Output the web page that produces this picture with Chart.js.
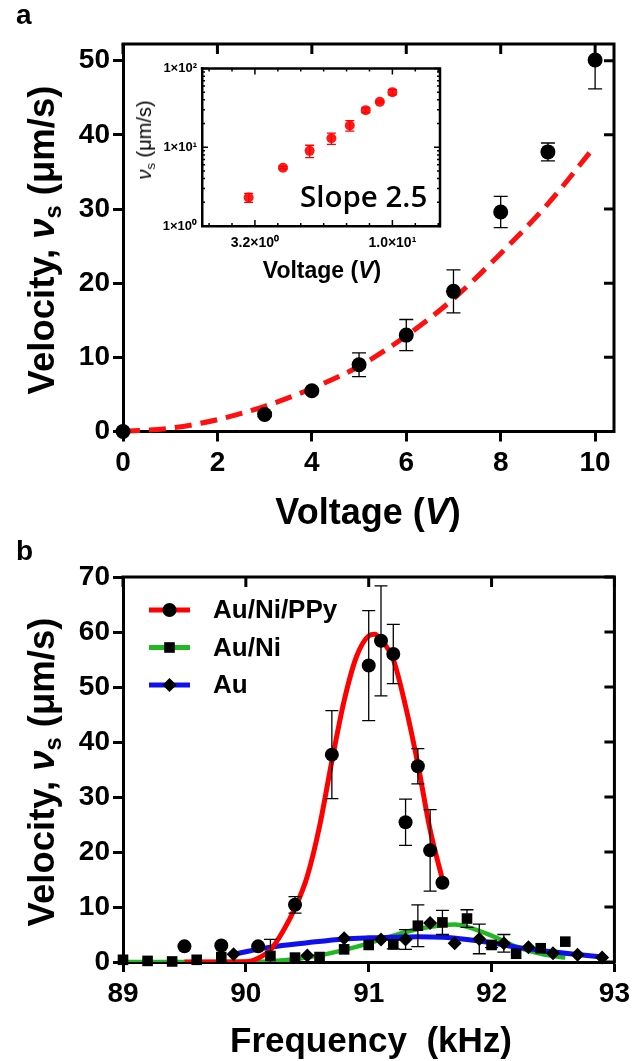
<!DOCTYPE html>
<html>
<head>
<meta charset="utf-8">
<title>Velocity vs voltage and frequency</title>
<script src="https://cdn.jsdelivr.net/npm/chart.js@4.4.1/dist/chart.umd.min.js"></script>
<style>
  html, body { margin: 0; padding: 0; background: #fff; }
  body { position: relative; width: 635px; height: 1061px; overflow: hidden;
         font-family: "Liberation Sans", Arial, sans-serif; color: #000; }
  canvas { position: absolute; display: block; }
  .t { position: absolute; white-space: nowrap; line-height: 1; font-weight: bold; }
  .rot { transform: translate(-50%, -50%) rotate(-90deg); }
  .hc { transform: translateX(-50%); }
  sub { font-size: 0.65em; vertical-align: -0.3em; line-height: 0; }
</style>
</head>
<body>
<canvas id="chartA" width="635" height="531" style="left:0;top:0"></canvas>
<canvas id="chartB" width="635" height="531" style="left:0;top:530px"></canvas>
<canvas id="inset" width="310" height="240" style="left:140px;top:50px"></canvas>

<div class="t" style="left:16px;top:1px;font-size:28px">a</div>
<div class="t" style="left:16px;top:537px;font-size:28px">b</div>
<div class="t rot" style="left:42px;top:240px;font-size:36.5px">Velocity, <i>ν</i><sub>s</sub> (μm/s)</div>
<div class="t hc" style="left:368px;top:494px;font-size:36px">Voltage (<i>V</i>)</div>
<div class="t rot" style="left:42px;top:772px;font-size:36.5px">Velocity, <i>ν</i><sub>s</sub> (μm/s)</div>
<div class="t hc" style="left:371px;top:1022px;font-size:35px">Frequency&nbsp;&nbsp;(kHz)</div>
<div class="t rot" style="left:144px;top:140px;font-size:20px;font-weight:normal"><i>ν</i><sub>s</sub> (μm/s)</div>
<div class="t hc" style="left:322px;top:259px;font-size:23px">Voltage (<i>V</i>)</div>
<div class="t" style="left:300px;top:181px;font-family:'Open Sans';font-weight:600;font-size:29.5px">Slope 2.5</div>

<script>
// ---- panel a : velocity vs voltage ----
const voltage     = [0, 3, 4, 5, 6, 7, 8, 9, 10];
const velocity    = [0, 2.3, 5.5, 9.0, 13.0, 18.9, 29.6, 37.7, 50.1];
const velocityErr = [0, 0.3, 0.2, 1.6, 2.1, 2.9, 2.1, 1.2, 3.9];
const fitVoltage  = [0, 1, 2, 3, 4, 5, 6, 7, 8, 9, 10];
const fitVelocity = [0, 0.45, 1.6, 3.4, 5.8, 8.8, 12.9, 17.9, 24.0, 30.7, 38.5];
const xTicksA = [0, 2, 4, 6, 8, 10];
const yTicksA = [0, 10, 20, 30, 40, 50];

// inset (log-log)
const insetXTicks  = [3.1623, 10];
const insetXLabels = ['3.2×10⁰', '1.0×10¹'];
const insetYTicks  = [1, 10, 100];
const insetYLabels = ['1×10⁰', '1×10¹', '1×10²'];

// ---- panel b : velocity vs frequency ----
const seriesNames = ['Au/Ni/PPy', 'Au/Ni', 'Au'];

const freqPPy = [89.5, 89.8, 90.1, 90.4, 90.7, 91.0, 91.1, 91.2, 91.3, 91.4, 91.5, 91.6];
const velPPy  = [2.85, 3.0, 2.85, 10.4, 37.7, 53.9, 58.4, 56.0, 25.4, 35.6, 20.3, 14.4];
const errPPy  = [0, 0, 0, 1.5, 8.0, 10.0, 10.0, 5.4, 4.2, 3.2, 7.4, 0];

const freqNi = [89.0, 89.2, 89.4, 89.6, 89.8, 90.2, 90.4, 90.6, 90.8, 91.0, 91.2, 91.4, 91.6, 91.8, 92.0, 92.2, 92.4, 92.6];
const velNi  = [0.4, 0.2, 0.1, 0.4, 0.9, 1.1, 0.8, 0.9, 2.3, 3.1, 3.2, 6.6, 7.2, 7.9, 3.1, 1.5, 2.5, 3.7];
const errNi  = [0, 0, 0, 0, 0, 3.0, 0, 0, 0, 0, 0.8, 3.8, 2.2, 1.6, 0.5, 0, 0, 0];

const freqAu = [89.9, 90.5, 90.8, 91.1, 91.3, 91.5, 91.7, 91.9, 92.1, 92.3, 92.5, 92.7, 92.9];
const velAu  = [1.4, 1.2, 4.3, 4.1, 4.1, 7.1, 3.4, 4.2, 3.4, 2.7, 1.6, 1.3, 0.8];
const errAu  = [0, 0, 0, 0, 1.8, 0, 0, 2.7, 1.6, 0, 0, 0, 0];

const fitFreqPPy = [89.5, 89.8, 90.0, 90.1, 90.2, 90.3, 90.4, 90.5, 90.6, 90.7, 90.8, 90.9, 91.0, 91.05, 91.1, 91.2, 91.3, 91.4, 91.5, 91.6];
const fitVelPPy  = [0, 0, 0.05, 0.7, 2.2, 5.5, 9.8, 15.6, 24.7, 36.5, 47.5, 55.5, 59.3, 59.6, 58.6, 55.0, 46.5, 36.0, 24.0, 15.0];
const fitFreqNi  = [89.0, 89.5, 90.0, 90.2, 90.4, 90.6, 90.8, 91.0, 91.2, 91.4, 91.6, 91.7, 91.8, 92.0, 92.2, 92.4, 92.6];
const fitVelNi   = [0, 0, 0.05, 0.15, 0.5, 1.2, 2.2, 3.4, 4.8, 6.0, 6.7, 6.8, 6.4, 4.8, 2.8, 1.5, 0.8];
const fitFreqAu  = [89.9, 90.2, 90.5, 90.8, 91.0, 91.2, 91.4, 91.6, 91.8, 92.0, 92.2, 92.4, 92.6, 92.9];
const fitVelAu   = [1.4, 2.7, 3.5, 4.2, 4.4, 4.5, 4.6, 4.5, 4.1, 3.5, 2.7, 2.1, 1.6, 0.9];

const xTicksB = [89, 90, 91, 92, 93];
const yTicksB = [0, 10, 20, 30, 40, 50, 60, 70];

const pts = (xs, ys) => xs.map((x, i) => ({ x: x, y: ys[i] }));

Chart.defaults.font.family = "'Liberation Sans', Arial, sans-serif";
Chart.defaults.color = '#000';

// error bars, drawn through the chart's own scales
const errorBars = {
  id: 'errorBars',
  afterDatasetsDraw(chart, args, o) {
    const { ctx, chartArea: a } = chart;
    ctx.save();
    ctx.beginPath();
    ctx.rect(a.left, a.top, a.right - a.left, a.bottom - a.top);
    ctx.clip();
    chart.data.datasets.forEach((ds, i) => {
      if (!ds.errors) return;
      const meta = chart.getDatasetMeta(i);
      const ys = chart.scales[meta.yAxisID];
      ctx.strokeStyle = ds.errorColor || '#000';
      ctx.lineWidth = o.width;
      ds.data.forEach((p, j) => {
        const e = ds.errors[j];
        if (!e) return;
        const px = meta.data[j].x;
        const top = ys.getPixelForValue(p.y + e), bot = ys.getPixelForValue(p.y - e);
        ctx.beginPath();
        ctx.moveTo(px, top); ctx.lineTo(px, bot);
        ctx.moveTo(px - o.cap, top); ctx.lineTo(px + o.cap, top);
        ctx.moveTo(px - o.cap, bot); ctx.lineTo(px + o.cap, bot);
        ctx.stroke();
      });
    });
    ctx.restore();
  }
};

// top/right frame with inward ticks
const frame = {
  id: 'frame',
  afterDraw(chart, args, o) {
    const { ctx, chartArea: a, scales: { x, y } } = chart;
    ctx.save();
    ctx.strokeStyle = '#000';
    ctx.lineWidth = o.width;
    ctx.beginPath();
    ctx.moveTo(a.left - o.width / 2, a.top);
    ctx.lineTo(a.right, a.top);
    ctx.lineTo(a.right, a.bottom + o.width / 2);
    ctx.stroke();
    ctx.beginPath();
    x.ticks.forEach(t => { const px = x.getPixelForValue(t.value); ctx.moveTo(px, a.top); ctx.lineTo(px, a.top + o.len); });
    y.ticks.forEach(t => { const py = y.getPixelForValue(t.value); ctx.moveTo(a.right, py); ctx.lineTo(a.right - o.len, py); });
    ctx.stroke();
    ctx.restore();
  }
};

function axes(xMin, xMax, xTicks, yMin, yMax, yTicks, xHeight) {
  const border = { display: true, color: '#000', width: 3 };
  const grid = { display: true, drawOnChartArea: false, drawTicks: true, tickLength: 10, tickWidth: 3, tickColor: '#000' };
  return {
    x: {
      type: 'linear', min: xMin, max: xMax, border: border, grid: grid,
      ticks: { color: '#000', font: { size: 28, weight: 'bold' }, padding: 5, maxRotation: 0, autoSkip: false },
      afterBuildTicks: s => { s.ticks = xTicks.map(v => ({ value: v })); },
      afterFit: s => { s.height = xHeight; }
    },
    y: {
      type: 'linear', min: yMin, max: yMax, border: border, grid: grid,
      ticks: { color: '#000', font: { size: 28, weight: 'bold' }, padding: 3, autoSkip: false },
      afterBuildTicks: s => { s.ticks = yTicks.map(v => ({ value: v })); },
      afterFit: s => { s.width = 123; }
    }
  };
}

// PANEL A
new Chart(document.getElementById('chartA'), {
  type: 'scatter',
  data: {
    datasets: [
      {
        data: pts(voltage, velocity), errors: velocityErr,
        backgroundColor: '#000', pointRadius: 7.5, borderWidth: 0, clip: false
      },
      {
        data: pts(fitVoltage, fitVelocity), showLine: true, pointRadius: 0,
        borderColor: '#ff1010', borderWidth: 5, borderDash: [17, 9],
        cubicInterpolationMode: 'monotone', clip: false
      }
    ]
  },
  options: {
    responsive: false, animation: false,
    layout: { padding: { top: 44, right: 21, left: 0, bottom: 0 } },
    plugins: {
      legend: { display: false }, tooltip: { enabled: false },
      errorBars: { width: 1.3, cap: 7 },
      frame: { width: 3, len: 10 }
    },
    scales: axes(0, 10.4, xTicksA, 0, 52.25, yTicksA, 99.5)
  },
  plugins: [errorBars, frame]
});

// INSET - log/log
const insetXMinor = [];
for (let k = -2; k <= 8; k++) insetXMinor.push(Math.pow(10, 0.5 + k / 12));
const insetYMinor = [];
[1, 10].forEach(d => { for (let m = 2; m <= 9; m++) insetYMinor.push(m * d); });

const insetFrame = {
  id: 'insetFrame',
  afterDraw(chart) {
    const { ctx, chartArea: a, scales: { x, y } } = chart;
    ctx.save();
    ctx.strokeStyle = '#000';
    ctx.lineWidth = 2.5;
    ctx.beginPath();
    ctx.moveTo(a.left - 1.25, a.top); ctx.lineTo(a.right, a.top); ctx.lineTo(a.right, a.bottom + 1.25);
    ctx.stroke();
    ctx.lineWidth = 1.5;
    ctx.beginPath();
    const xt = (v, len) => { const px = x.getPixelForValue(v);
      ctx.moveTo(px, a.bottom); ctx.lineTo(px, a.bottom - len);
      ctx.moveTo(px, a.top); ctx.lineTo(px, a.top + len); };
    const yt = (v, len) => { const py = y.getPixelForValue(v);
      ctx.moveTo(a.left, py); ctx.lineTo(a.left + len, py);
      ctx.moveTo(a.right, py); ctx.lineTo(a.right - len, py); };
    insetXMinor.forEach(v => xt(v, 3));
    insetXTicks.forEach(v => xt(v, 6));
    insetYMinor.forEach(v => yt(v, 3));
    insetYTicks.forEach(v => yt(v, 6));
    ctx.stroke();
    ctx.restore();
  }
};

new Chart(document.getElementById('inset'), {
  type: 'scatter',
  data: {
    datasets: [{
      data: pts(voltage.slice(1), velocity.slice(1)), errors: velocityErr.slice(1), errorColor: '#ff0000',
      backgroundColor: '#ff1a1a', pointRadius: 5, borderWidth: 0, clip: false
    }]
  },
  options: {
    responsive: false, animation: false,
    layout: { padding: { top: 18.5, right: 10, left: 0, bottom: 0 } },
    plugins: { legend: { display: false }, tooltip: { enabled: false }, errorBars: { width: 1.3, cap: 4.5 } },
    scales: {
      x: {
        type: 'logarithmic', min: 2.03, max: 14.9,
        border: { display: true, color: '#000', width: 2.5 },
        grid: { display: false, drawTicks: false },
        ticks: { color: '#000', font: { size: 14, weight: 'bold' }, padding: 9, maxRotation: 0, autoSkip: false,
                 callback: (v, i) => insetXLabels[i] },
        afterBuildTicks: s => { s.ticks = insetXTicks.map(v => ({ value: v })); },
        afterFit: s => { s.height = 64; }
      },
      y: {
        type: 'logarithmic', min: 1, max: 100,
        border: { display: true, color: '#000', width: 2.5 },
        grid: { display: false, drawTicks: false },
        ticks: { color: '#000', font: { size: 13, weight: 'bold' }, padding: 5, autoSkip: false,
                 callback: (v, i) => insetYLabels[i] },
        afterBuildTicks: s => { s.ticks = insetYTicks.map(v => ({ value: v })); },
        afterFit: s => { s.width = 62; }
      }
    }
  },
  plugins: [errorBars, insetFrame]
});

// PANEL B
const pointSets = [
  { data: pts(freqPPy, velPPy), errors: errPPy, pointStyle: 'circle',  pointRadius: 7,   backgroundColor: '#000', borderWidth: 0, clip: false },
  { data: pts(freqNi, velNi),   errors: errNi,  pointStyle: 'rect',    pointRadius: 7.5, backgroundColor: '#000', borderWidth: 0, clip: false },
  { data: pts(freqAu, velAu),   errors: errAu,  pointStyle: 'rectRot', pointRadius: 7,   backgroundColor: '#000', borderWidth: 0, clip: false }
];
const fitSets = [
  { data: pts(fitFreqPPy, fitVelPPy), borderColor: '#ff0000', borderWidth: 5 },
  { data: pts(fitFreqAu, fitVelAu),   borderColor: '#1010ee', borderWidth: 5 },
  { data: pts(fitFreqNi, fitVelNi),   borderColor: '#22b822', borderWidth: 4.5 }
].map(d => Object.assign(d, { showLine: true, pointRadius: 0, cubicInterpolationMode: 'monotone' }));

const legendB = {
  id: 'legendB',
  afterDraw(chart, args, o) {
    const ctx = chart.ctx;
    const colors = [fitSets[0].borderColor, fitSets[2].borderColor, fitSets[1].borderColor];
    seriesNames.forEach((name, i) => {
      const y = o.y + i * o.dy;
      ctx.save();
      ctx.strokeStyle = colors[i];
      ctx.lineWidth = 5;
      ctx.beginPath(); ctx.moveTo(o.x, y); ctx.lineTo(o.x + o.len, y); ctx.stroke();
      ctx.fillStyle = '#000';
      Chart.helpers.drawPoint(ctx, { pointStyle: pointSets[i].pointStyle, radius: pointSets[i].pointRadius, borderWidth: 0, rotation: 0 },
        o.x + o.len / 2, y);
      ctx.font = 'bold 26px "Liberation Sans", Arial, sans-serif';
      ctx.textBaseline = 'middle';
      ctx.fillText(name, o.textX, y + 1);
      ctx.restore();
    });
  }
};

new Chart(document.getElementById('chartB'), {
  type: 'scatter',
  data: { datasets: pointSets.concat(fitSets) },
  options: {
    responsive: false, animation: false,
    layout: { padding: { top: 47, right: 16, left: 0, bottom: 0 } },
    plugins: {
      legend: { display: false }, tooltip: { enabled: false },
      errorBars: { width: 1.3, cap: 6.5 },
      frame: { width: 3, len: 10 },
      legendB: { x: 149, len: 41, y: 80, dy: 37.5, textX: 213 }
    },
    scales: axes(89, 93, xTicksB, 0, 70, yTicksB, 99)
  },
  plugins: [errorBars, frame, legendB]
});
</script>
</body>
</html>
